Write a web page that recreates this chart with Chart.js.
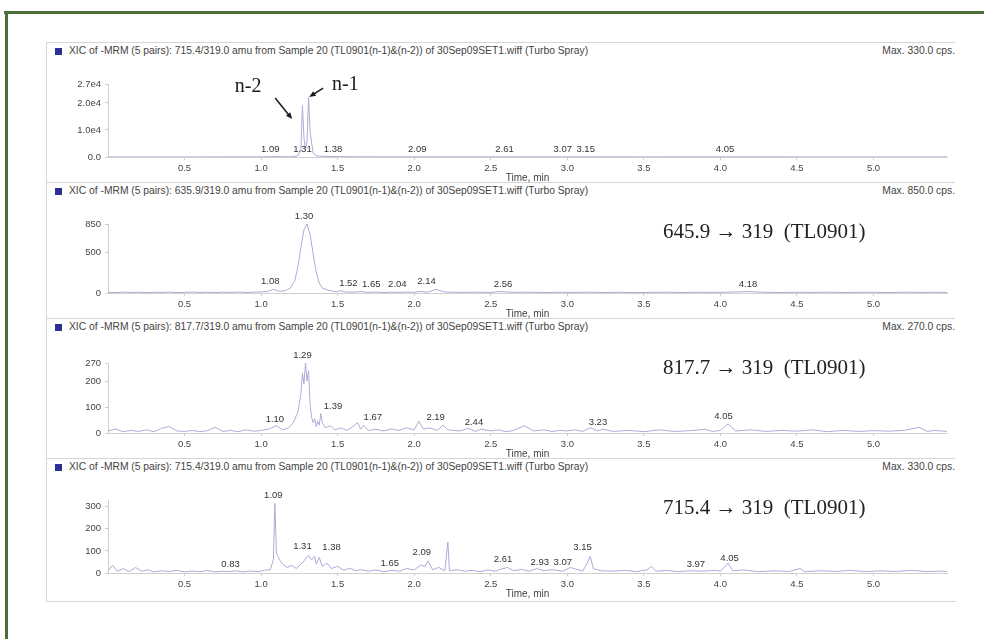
<!DOCTYPE html>
<html>
<head>
<meta charset="utf-8">
<script src="https://cdn.jsdelivr.net/npm/chart.js@4/dist/chart.umd.min.js"></script>
<style>
  body { margin: 0; background: #fff; width: 984px; height: 639px; overflow: hidden; position: relative;
         font-family: Arial, "Liberation Sans", sans-serif; }
  .green-top  { position: absolute; left: 4px; top: 11px; width: 980px; height: 3px; background: #4e6e38; }
  .green-left { position: absolute; left: 5px; top: 11px; width: 3px; height: 628px; background: #4e6e38; }
  .box  { position: absolute; left: 46px; top: 42px; width: 909px; height: 559px;
          border-left: 1px solid #d6d6d6; border-bottom: 1px solid #d6d6d6; }
  .hdr  { position: absolute; left: 46px; width: 909px; height: 1px; background: #d6d6d6; }
  .ttl  { position: absolute; left: 55px; font-size: 10.3px; line-height: 11px; color: #444; white-space: nowrap; z-index: 2; }
  .ttl i { display: inline-block; width: 7px; height: 7px; background: #2b2f8f; margin-right: 7px; vertical-align: -1px; }
  .max  { position: absolute; right: 29px; font-size: 10.3px; line-height: 11px; color: #444; white-space: nowrap; z-index: 2; }
  .ann  { position: absolute; left: 663px; font-family: "Liberation Serif", "Times New Roman", serif; font-size: 21px;
          line-height: 24px; color: #222; white-space: pre; z-index: 2; }
  .plot { position: absolute; left: 46px; z-index: 1; }
</style>
</head>
<body>
<div class="green-top"></div>
<div class="green-left"></div>
<div class="box"></div>
<div id="root"></div>

<script>
/* ---- data ---- */
const xTicks  = [0.5, 1.0, 1.5, 2.0, 2.5, 3.0, 3.5, 4.0, 4.5, 5.0];
const xLabels = ["0.5", "1.0", "1.5", "2.0", "2.5", "3.0", "3.5", "4.0", "4.5", "5.0"];

const titles = [
  "XIC of -MRM (5 pairs): 715.4/319.0 amu from Sample 20 (TL0901(n-1)&(n-2)) of 30Sep09SET1.wiff (Turbo Spray)",
  "XIC of -MRM (5 pairs): 635.9/319.0 amu from Sample 20 (TL0901(n-1)&(n-2)) of 30Sep09SET1.wiff (Turbo Spray)",
  "XIC of -MRM (5 pairs): 817.7/319.0 amu from Sample 20 (TL0901(n-1)&(n-2)) of 30Sep09SET1.wiff (Turbo Spray)",
  "XIC of -MRM (5 pairs): 715.4/319.0 amu from Sample 20 (TL0901(n-1)&(n-2)) of 30Sep09SET1.wiff (Turbo Spray)"
];
const maxTexts = ["Max. 330.0 cps.", "Max. 850.0 cps.", "Max. 270.0 cps.", "Max. 330.0 cps."];
const transitions = ["", "645.9 \u2192 319  (TL0901)", "817.7 \u2192 319  (TL0901)", "715.4 \u2192 319  (TL0901)"];

// panel 1
const yMax1 = 27000;
const yTicks1 = [0, 10000, 20000, 27000];
const yLabels1 = ["0.0", "1.0e4", "2.0e4", "2.7e4"];
const trace1 = [[0,20],[0.25,35],[0.5,30],[0.75,45],[1.0,60],[1.09,150],[1.15,90],[1.2,120],[1.24,400],[1.26,3000],
  [1.27,19000],[1.28,7000],[1.29,2500],[1.30,6000],[1.31,22000],[1.32,9000],[1.34,1500],[1.36,500],[1.38,300],
  [1.45,150],[1.6,90],[1.8,70],[2.09,80],[2.3,60],[2.61,70],[2.8,50],[3.07,60],[3.15,60],[3.5,40],[4.05,60],
  [4.5,35],[5.0,30],[5.48,20]];
const peakT1 = [1.09, 1.31, 1.38, 2.09, 2.61, 3.07, 3.15, 4.05];   // label text (retention time)
const peakX1 = [1.06, 1.27, 1.47, 2.02, 2.59, 2.97, 3.12, 4.03];   // where the label sits
const peakH1 = [0, 0, 0, 0, 0, 0, 0, 0];

// panel 2
const yMax2 = 850;
const yTicks2 = [0, 500, 850];
const yLabels2 = ["0", "500", "850"];
const trace2 = [[0,10],[0.05,5],[0.1,12],[0.15,6],[0.2,10],[0.25,4],[0.3,9],[0.35,6],[0.4,11],[0.45,5],[0.5,8],
  [0.55,12],[0.6,6],[0.65,9],[0.7,5],[0.75,10],[0.8,7],[0.85,12],[0.9,6],[0.95,10],[1.0,14],[1.04,20],[1.08,45],
  [1.12,20],[1.16,30],[1.19,60],[1.22,150],[1.24,320],[1.26,560],[1.28,780],[1.30,850],[1.32,720],[1.34,480],
  [1.36,260],[1.38,120],[1.40,60],[1.43,40],[1.46,25],[1.49,15],[1.52,30],[1.55,12],[1.6,10],[1.65,18],[1.7,8],
  [1.75,12],[1.8,6],[1.85,10],[1.9,8],[1.95,12],[2.0,9],[2.04,20],[2.09,10],[2.14,45],[2.2,12],[2.3,8],[2.4,10],
  [2.5,7],[2.56,18],[2.65,8],[2.75,10],[2.85,6],[2.95,9],[3.05,7],[3.15,10],[3.25,6],[3.35,9],[3.45,5],[3.55,8],
  [3.65,10],[3.75,6],[3.85,9],[3.95,7],[4.05,10],[4.18,18],[4.3,8],[4.4,6],[4.5,9],[4.6,7],[4.7,10],[4.8,6],
  [4.9,8],[5.0,9],[5.1,6],[5.2,10],[5.3,7],[5.4,9],[5.48,6]];
const peakT2 = [1.08, 1.30, 1.52, 1.65, 2.04, 2.14, 2.56, 4.18];
const peakX2 = [1.06, 1.28, 1.57, 1.72, 1.89, 2.08, 2.58, 4.18];
const peakH2 = [50, 850, 25, 10, 10, 50, 10, 10];

// panel 3
const yMax3 = 270;
const yTicks3 = [0, 100, 200, 270];
const yLabels3 = ["0", "100", "200", "270"];
const trace3 = [[0,8],[0.05,15],[0.1,5],[0.15,10],[0.2,6],[0.25,12],[0.3,5],[0.35,18],[0.4,25],[0.45,8],[0.5,6],
  [0.55,10],[0.6,5],[0.65,9],[0.7,22],[0.75,6],[0.8,10],[0.85,5],[0.9,12],[0.95,7],[1.0,10],[1.05,15],[1.1,28],
  [1.14,12],[1.18,20],[1.21,40],[1.24,80],[1.26,150],[1.27,230],[1.28,190],[1.29,270],[1.30,200],[1.31,240],
  [1.32,110],[1.33,60],[1.34,40],[1.35,55],[1.36,25],[1.37,45],[1.38,30],[1.39,75],[1.40,40],[1.42,20],[1.45,28],
  [1.48,12],[1.52,20],[1.56,10],[1.6,25],[1.63,40],[1.65,15],[1.67,30],[1.7,10],[1.75,14],[1.8,8],[1.85,16],
  [1.9,10],[1.95,20],[2.0,12],[2.03,45],[2.06,15],[2.1,20],[2.15,10],[2.19,30],[2.22,12],[2.3,8],[2.35,18],
  [2.4,6],[2.44,15],[2.5,8],[2.55,12],[2.6,5],[2.65,10],[2.72,28],[2.78,8],[2.85,12],[2.9,6],[2.95,10],[3.0,8],
  [3.05,12],[3.1,6],[3.15,20],[3.2,8],[3.23,15],[3.3,6],[3.4,10],[3.5,5],[3.6,12],[3.7,6],[3.8,9],[3.9,14],
  [3.95,6],[4.0,10],[4.05,35],[4.1,8],[4.2,12],[4.3,6],[4.4,10],[4.5,7],[4.6,12],[4.7,5],[4.8,10],[4.9,6],
  [5.0,9],[5.1,7],[5.2,10],[5.3,22],[5.35,6],[5.4,10],[5.48,6]];
const peakT3 = [1.10, 1.29, 1.39, 1.67, 2.19, 2.44, 3.23, 4.05];
const peakX3 = [1.09, 1.27, 1.47, 1.73, 2.14, 2.39, 3.20, 4.02];
const peakH3 = [23, 270, 73, 30, 32, 10, 12, 35];

// panel 4
const yMax4 = 330;
const yTicks4 = [0, 100, 200, 300];
const yLabels4 = ["0", "100", "200", "300"];
const trace4 = [[0,10],[0.03,35],[0.06,8],[0.1,20],[0.14,6],[0.18,25],[0.22,8],[0.26,15],[0.3,5],[0.35,10],[0.4,6],
  [0.45,12],[0.5,5],[0.55,9],[0.6,6],[0.65,11],[0.7,5],[0.75,8],[0.8,6],[0.83,10],[0.88,5],[0.93,9],[0.98,6],
  [1.02,12],[1.06,15],[1.08,60],[1.09,315],[1.10,90],[1.12,60],[1.14,40],[1.17,25],[1.2,35],[1.23,20],[1.26,40],
  [1.28,55],[1.31,80],[1.33,60],[1.35,75],[1.36,40],[1.38,70],[1.4,30],[1.43,45],[1.46,20],[1.5,30],[1.54,12],
  [1.58,22],[1.62,10],[1.65,15],[1.7,8],[1.75,14],[1.8,6],[1.85,12],[1.9,8],[1.95,20],[2.0,14],[2.04,35],
  [2.07,30],[2.09,55],[2.12,15],[2.16,25],[2.2,10],[2.22,140],[2.23,10],[2.28,15],[2.33,8],[2.38,12],[2.43,6],
  [2.48,14],[2.53,8],[2.57,18],[2.61,25],[2.65,10],[2.7,16],[2.75,8],[2.8,20],[2.85,10],[2.9,16],[2.93,12],
  [2.97,8],[3.02,25],[3.07,15],[3.1,8],[3.13,45],[3.15,75],[3.17,20],[3.22,10],[3.3,8],[3.38,12],[3.45,6],
  [3.52,14],[3.55,30],[3.58,8],[3.65,12],[3.72,6],[3.8,10],[3.88,8],[3.97,12],[4.0,8],[4.05,45],[4.08,10],
  [4.15,14],[4.25,6],[4.35,10],[4.45,7],[4.52,20],[4.55,6],[4.65,10],[4.75,7],[4.85,12],[4.95,6],[5.05,10],
  [5.15,7],[5.25,12],[5.35,6],[5.45,9],[5.48,5]];
const peakT4 = [0.83, 1.09, 1.31, 1.38, 1.65, 2.09, 2.61, 2.93, 3.07, 3.15, 3.97, 4.05];
const peakX4 = [0.80, 1.08, 1.27, 1.46, 1.84, 2.05, 2.58, 2.82, 2.97, 3.10, 3.84, 4.06];
const peakH4 = [5, 315, 86, 81, 10, 59, 27, 14, 14, 81, 5, 32];

/* ---- layout (page pixels) ---- */
const layout = [
  { hdr: 42,  top: 84,  base: 157 },
  { hdr: 182, top: 224, base: 293 },
  { hdr: 318, top: 363, base: 433 },
  { hdr: 458, top: 500, base: 573 }
];
const PAD_TOP = 14, X_AXIS_H = 27, Y_AXIS_W = 62, CANVAS_W = 914, PAD_RIGHT = 13;

// n-2 / n-1 notes on the first panel, in data units
const notes1 = [{ text: "n-2", t: 0.915, v: 25900 }, { text: "n-1", t: 1.55, v: 26600 }];
const arrows1 = [[1.092, 21800, 1.203, 14050], [1.405, 25500, 1.314, 22200]];

const traceColor = "#ababd9";
const axisColor = "#cfcfcf";
const textColor = "#444";

Chart.defaults.font.family = "Arial, 'Liberation Sans', sans-serif";
Chart.defaults.font.size = 9.5;
Chart.defaults.color = textColor;

const peakLabelPlugin = {
  id: "peakLabels",
  afterDatasetsDraw(chart, args, opts) {
    const { ctx, scales: { x, y } } = chart;
    ctx.save();
    ctx.font = "9.5px Arial, 'Liberation Sans', sans-serif";
    ctx.fillStyle = "#333";
    ctx.textAlign = "center";
    ctx.textBaseline = "bottom";
    opts.times.forEach((t, i) => {
      ctx.fillText(t.toFixed(2), x.getPixelForValue(opts.at[i]), y.getPixelForValue(opts.heights[i]) - 3);
    });
    ctx.restore();
  }
};

const notesPlugin = {
  id: "notes",
  afterDatasetsDraw(chart, args, opts) {
    if (!opts.notes) return;
    const { ctx, scales: { x, y } } = chart;
    ctx.save();
    ctx.fillStyle = "#1a1a1a";
    ctx.strokeStyle = "#1a1a1a";
    ctx.font = "20px 'Liberation Serif', 'Times New Roman', serif";
    ctx.textAlign = "center";
    ctx.textBaseline = "middle";
    opts.notes.forEach(n => ctx.fillText(n.text, x.getPixelForValue(n.t), y.getPixelForValue(n.v)));
    ctx.lineWidth = 1.5;
    opts.arrows.forEach(a => {
      const x0 = x.getPixelForValue(a[0]), y0 = y.getPixelForValue(a[1]);
      const x1 = x.getPixelForValue(a[2]), y1 = y.getPixelForValue(a[3]);
      const ang = Math.atan2(y1 - y0, x1 - x0);
      ctx.beginPath();
      ctx.moveTo(x0, y0);
      ctx.lineTo(x1 - 4 * Math.cos(ang), y1 - 4 * Math.sin(ang));
      ctx.stroke();
      ctx.beginPath();
      ctx.moveTo(x1, y1);
      ctx.lineTo(x1 - 7 * Math.cos(ang - 0.4), y1 - 7 * Math.sin(ang - 0.4));
      ctx.lineTo(x1 - 7 * Math.cos(ang + 0.4), y1 - 7 * Math.sin(ang + 0.4));
      ctx.closePath();
      ctx.fill();
    });
    ctx.restore();
  }
};

function chromatogram(i, trace, yMax, yTicks, yLabels, peakT, peakX, peakH, notes, arrows) {
  const L = layout[i];
  const root = document.getElementById("root");

  const hdr = document.createElement("div");
  hdr.className = "hdr"; hdr.style.top = L.hdr + "px";
  root.appendChild(hdr);

  const ttl = document.createElement("div");
  ttl.className = "ttl"; ttl.style.top = (L.hdr + 3) + "px";
  ttl.innerHTML = "<i></i>";
  ttl.appendChild(document.createTextNode(titles[i]));
  root.appendChild(ttl);

  const mx = document.createElement("div");
  mx.className = "max"; mx.style.top = (L.hdr + 3) + "px";
  mx.textContent = maxTexts[i];
  root.appendChild(mx);

  if (transitions[i]) {
    const ann = document.createElement("div");
    ann.className = "ann"; ann.style.top = (L.hdr + 37) + "px";
    ann.textContent = transitions[i];
    root.appendChild(ann);
  }

  const h = PAD_TOP + (L.base - L.top) + X_AXIS_H;
  const wrap = document.createElement("div");
  wrap.className = "plot";
  wrap.style.top = (L.top - PAD_TOP) + "px";
  const cv = document.createElement("canvas");
  cv.width = CANVAS_W; cv.height = h;
  cv.style.width = CANVAS_W + "px"; cv.style.height = h + "px";
  wrap.appendChild(cv);
  root.appendChild(wrap);

  return new Chart(cv, {
    type: "line",
    data: {
      datasets: [{
        data: trace.map(p => ({ x: p[0], y: p[1] })),
        borderColor: traceColor,
        borderWidth: 1,
        pointRadius: 0,
        tension: 0
      }]
    },
    options: {
      responsive: false,
      animation: false,
      devicePixelRatio: 1,
      layout: { padding: { top: PAD_TOP, right: PAD_RIGHT, left: 0, bottom: 0 } },
      plugins: {
        legend: { display: false },
        tooltip: { enabled: false },
        peakLabels: { times: peakT, at: peakX, heights: peakH },
        notes: { notes: notes, arrows: arrows }
      },
      scales: {
        x: {
          type: "linear", min: 0, max: 5.48,
          afterBuildTicks: s => { s.ticks = xTicks.map(v => ({ value: v })); },
          afterFit: s => { s.height = X_AXIS_H; },
          ticks: { callback: (v, k) => xLabels[k], maxRotation: 0, autoSkip: false, padding: 3, color: textColor },
          grid: { drawOnChartArea: false, drawTicks: true, tickLength: 3, color: axisColor },
          border: { color: axisColor },
          title: { display: true, text: "Time, min", color: textColor, font: { size: 10 }, padding: { top: 0, bottom: 0 } }
        },
        y: {
          min: 0, max: yMax,
          afterBuildTicks: s => { s.ticks = yTicks.map(v => ({ value: v })); },
          afterFit: s => { s.width = Y_AXIS_W; },
          ticks: { callback: (v, k) => yLabels[k], padding: 4, color: textColor },
          grid: { drawOnChartArea: false, drawTicks: true, tickLength: 3, color: axisColor },
          border: { color: axisColor }
        }
      }
    },
    plugins: [peakLabelPlugin, notesPlugin]
  });
}

chromatogram(0, trace1, yMax1, yTicks1, yLabels1, peakT1, peakX1, peakH1, notes1, arrows1);
chromatogram(1, trace2, yMax2, yTicks2, yLabels2, peakT2, peakX2, peakH2);
chromatogram(2, trace3, yMax3, yTicks3, yLabels3, peakT3, peakX3, peakH3);
chromatogram(3, trace4, yMax4, yTicks4, yLabels4, peakT4, peakX4, peakH4);
</script>
</body>
</html>
